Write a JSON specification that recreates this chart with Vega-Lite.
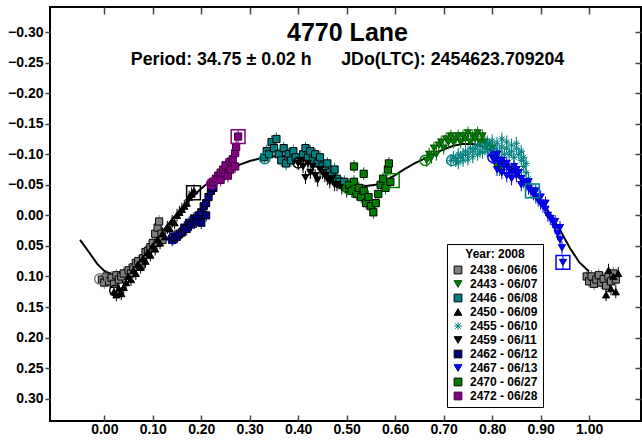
{
  "$schema": "https://vega.github.io/schema/vega-lite/v6.json",
  "width": 591,
  "height": 414,
  "autosize": "none",
  "padding": {"left": 50, "top": 7, "right": 1, "bottom": 24},
  "background": "white",
  "title": {
    "text": "4770 Lane",
    "subtitle": "Period: 34.75 ± 0.02 h\u00a0\u00a0\u00a0\u00a0\u00a0 JDo(LTC): 2454623.709204",
    "font": "Liberation Sans",
    "subtitleFont": "Liberation Sans",
    "fontSize": 25,
    "subtitleFontSize": 17.8,
    "fontWeight": "bold",
    "subtitleFontWeight": "bold",
    "color": "black",
    "subtitleColor": "black",
    "anchor": "middle",
    "frame": "group",
    "offset": -63,
    "subtitlePadding": 5,
    "dx": 2
  },
  "datasets": {
    "fit": [
      {"p": -0.05, "m": 0.040}, {"p": -0.03, "m": 0.062}, {"p": -0.015, "m": 0.079}, {"p": 0.0, "m": 0.091},
      {"p": 0.02, "m": 0.098}, {"p": 0.04, "m": 0.095}, {"p": 0.06, "m": 0.083}, {"p": 0.08, "m": 0.066},
      {"p": 0.10, "m": 0.046}, {"p": 0.12, "m": 0.026}, {"p": 0.14, "m": 0.006}, {"p": 0.16, "m": -0.012},
      {"p": 0.18, "m": -0.029}, {"p": 0.20, "m": -0.044}, {"p": 0.22, "m": -0.057}, {"p": 0.24, "m": -0.067},
      {"p": 0.26, "m": -0.076}, {"p": 0.28, "m": -0.083}, {"p": 0.30, "m": -0.089}, {"p": 0.32, "m": -0.093},
      {"p": 0.34, "m": -0.096}, {"p": 0.36, "m": -0.097}, {"p": 0.38, "m": -0.097}, {"p": 0.40, "m": -0.094},
      {"p": 0.42, "m": -0.089}, {"p": 0.44, "m": -0.082}, {"p": 0.46, "m": -0.073}, {"p": 0.48, "m": -0.064},
      {"p": 0.50, "m": -0.056}, {"p": 0.52, "m": -0.050}, {"p": 0.54, "m": -0.048}, {"p": 0.56, "m": -0.050},
      {"p": 0.58, "m": -0.057}, {"p": 0.60, "m": -0.066}, {"p": 0.62, "m": -0.076}, {"p": 0.64, "m": -0.085},
      {"p": 0.66, "m": -0.093}, {"p": 0.68, "m": -0.101}, {"p": 0.70, "m": -0.108}, {"p": 0.72, "m": -0.114},
      {"p": 0.74, "m": -0.117}, {"p": 0.76, "m": -0.117}, {"p": 0.78, "m": -0.113}, {"p": 0.80, "m": -0.105},
      {"p": 0.82, "m": -0.093}, {"p": 0.84, "m": -0.078}, {"p": 0.86, "m": -0.061}, {"p": 0.88, "m": -0.042},
      {"p": 0.90, "m": -0.022}, {"p": 0.92, "m": -0.002}, {"p": 0.94, "m": 0.024}, {"p": 0.96, "m": 0.053},
      {"p": 0.98, "m": 0.077}, {"p": 1.00, "m": 0.092}
    ],
    "pts": [
      {"s": "2438 - 06/06", "p": -0.005, "m": 0.105}, {"s": "2438 - 06/06", "p": 0.0, "m": 0.110}, {"s": "2438 - 06/06", "p": 0.005, "m": 0.100},
      {"s": "2438 - 06/06", "p": 0.01, "m": 0.108}, {"s": "2438 - 06/06", "p": 0.015, "m": 0.102}, {"s": "2438 - 06/06", "p": 0.02, "m": 0.112},
      {"s": "2438 - 06/06", "p": 0.025, "m": 0.098}, {"s": "2438 - 06/06", "p": 0.03, "m": 0.105}, {"s": "2438 - 06/06", "p": 0.035, "m": 0.100},
      {"s": "2438 - 06/06", "p": 0.04, "m": 0.095}, {"s": "2438 - 06/06", "p": 0.05, "m": 0.090}, {"s": "2438 - 06/06", "p": 0.055, "m": 0.095},
      {"s": "2438 - 06/06", "p": 0.06, "m": 0.085}, {"s": "2438 - 06/06", "p": 0.065, "m": 0.078}, {"s": "2438 - 06/06", "p": 0.07, "m": 0.075},
      {"s": "2438 - 06/06", "p": 0.075, "m": 0.082}, {"s": "2438 - 06/06", "p": 0.08, "m": 0.070}, {"s": "2438 - 06/06", "p": 0.085, "m": 0.060},
      {"s": "2438 - 06/06", "p": 0.09, "m": 0.058}, {"s": "2438 - 06/06", "p": 0.095, "m": 0.052}, {"s": "2438 - 06/06", "p": 0.10, "m": 0.045},
      {"s": "2438 - 06/06", "p": 0.105, "m": 0.030}, {"s": "2438 - 06/06", "p": 0.11, "m": 0.020}, {"s": "2438 - 06/06", "p": 0.11, "m": 0.045},
      {"s": "2438 - 06/06", "p": 0.113, "m": 0.010}, {"s": "2438 - 06/06", "p": 0.118, "m": 0.030}, {"s": "2438 - 06/06", "p": 0.12, "m": 0.040},
      {"s": "2438 - 06/06", "p": 0.995, "m": 0.100}, {"s": "2438 - 06/06", "p": 1.0, "m": 0.108}, {"s": "2438 - 06/06", "p": 1.005, "m": 0.100},
      {"s": "2438 - 06/06", "p": 1.01, "m": 0.112}, {"s": "2438 - 06/06", "p": 1.015, "m": 0.105}, {"s": "2438 - 06/06", "p": 1.02, "m": 0.098},
      {"s": "2438 - 06/06", "p": 1.025, "m": 0.110}, {"s": "2438 - 06/06", "p": 1.03, "m": 0.104}, {"s": "2438 - 06/06", "p": 1.035, "m": 0.115},
      {"s": "2438 - 06/06", "p": 1.04, "m": 0.100}, {"s": "2438 - 06/06", "p": 1.045, "m": 0.108}, {"s": "2438 - 06/06", "p": 1.05, "m": 0.095},
      {"s": "2438 - 06/06", "p": 1.055, "m": 0.105},

      {"s": "2450 - 06/09", "p": 0.02, "m": 0.125}, {"s": "2450 - 06/09", "p": 0.025, "m": 0.130}, {"s": "2450 - 06/09", "p": 0.03, "m": 0.120},
      {"s": "2450 - 06/09", "p": 0.035, "m": 0.128}, {"s": "2450 - 06/09", "p": 0.04, "m": 0.118}, {"s": "2450 - 06/09", "p": 0.045, "m": 0.110},
      {"s": "2450 - 06/09", "p": 0.05, "m": 0.100}, {"s": "2450 - 06/09", "p": 0.055, "m": 0.105}, {"s": "2450 - 06/09", "p": 0.06, "m": 0.090},
      {"s": "2450 - 06/09", "p": 0.065, "m": 0.095}, {"s": "2450 - 06/09", "p": 0.07, "m": 0.080}, {"s": "2450 - 06/09", "p": 0.075, "m": 0.085},
      {"s": "2450 - 06/09", "p": 0.08, "m": 0.070}, {"s": "2450 - 06/09", "p": 0.085, "m": 0.075}, {"s": "2450 - 06/09", "p": 0.09, "m": 0.060},
      {"s": "2450 - 06/09", "p": 0.095, "m": 0.065}, {"s": "2450 - 06/09", "p": 0.10, "m": 0.050}, {"s": "2450 - 06/09", "p": 0.105, "m": 0.055},
      {"s": "2450 - 06/09", "p": 0.11, "m": 0.040}, {"s": "2450 - 06/09", "p": 0.115, "m": 0.045}, {"s": "2450 - 06/09", "p": 0.12, "m": 0.030},
      {"s": "2450 - 06/09", "p": 0.125, "m": 0.035}, {"s": "2450 - 06/09", "p": 0.13, "m": 0.020}, {"s": "2450 - 06/09", "p": 0.135, "m": 0.022},
      {"s": "2450 - 06/09", "p": 0.14, "m": 0.010}, {"s": "2450 - 06/09", "p": 0.145, "m": 0.012}, {"s": "2450 - 06/09", "p": 0.15, "m": 0.000},
      {"s": "2450 - 06/09", "p": 0.155, "m": -0.005}, {"s": "2450 - 06/09", "p": 0.16, "m": -0.010}, {"s": "2450 - 06/09", "p": 0.165, "m": -0.015},
      {"s": "2450 - 06/09", "p": 0.17, "m": -0.020}, {"s": "2450 - 06/09", "p": 0.175, "m": -0.030}, {"s": "2450 - 06/09", "p": 0.18, "m": -0.035},
      {"s": "2450 - 06/09", "p": 0.185, "m": -0.040},
      {"s": "2450 - 06/09", "p": 1.035, "m": 0.130}, {"s": "2450 - 06/09", "p": 1.04, "m": 0.090}, {"s": "2450 - 06/09", "p": 1.045, "m": 0.120},
      {"s": "2450 - 06/09", "p": 1.05, "m": 0.100}, {"s": "2450 - 06/09", "p": 1.055, "m": 0.125}, {"s": "2450 - 06/09", "p": 1.06, "m": 0.095},

      {"s": "2462 - 06/12", "p": 0.14, "m": 0.040}, {"s": "2462 - 06/12", "p": 0.145, "m": 0.035}, {"s": "2462 - 06/12", "p": 0.15, "m": 0.035},
      {"s": "2462 - 06/12", "p": 0.155, "m": 0.030}, {"s": "2462 - 06/12", "p": 0.16, "m": 0.028}, {"s": "2462 - 06/12", "p": 0.165, "m": 0.020},
      {"s": "2462 - 06/12", "p": 0.17, "m": 0.022}, {"s": "2462 - 06/12", "p": 0.175, "m": 0.012}, {"s": "2462 - 06/12", "p": 0.18, "m": 0.015},
      {"s": "2462 - 06/12", "p": 0.185, "m": 0.005}, {"s": "2462 - 06/12", "p": 0.19, "m": 0.010}, {"s": "2462 - 06/12", "p": 0.195, "m": 0.000},
      {"s": "2462 - 06/12", "p": 0.20, "m": -0.005}, {"s": "2462 - 06/12", "p": 0.20, "m": 0.012}, {"s": "2462 - 06/12", "p": 0.205, "m": -0.015},
      {"s": "2462 - 06/12", "p": 0.21, "m": -0.020}, {"s": "2462 - 06/12", "p": 0.21, "m": 0.000}, {"s": "2462 - 06/12", "p": 0.215, "m": -0.030},
      {"s": "2462 - 06/12", "p": 0.22, "m": -0.040}, {"s": "2462 - 06/12", "p": 0.225, "m": -0.045},

      {"s": "2472 - 06/28", "p": 0.22, "m": -0.050}, {"s": "2472 - 06/28", "p": 0.225, "m": -0.055}, {"s": "2472 - 06/28", "p": 0.23, "m": -0.060},
      {"s": "2472 - 06/28", "p": 0.235, "m": -0.065}, {"s": "2472 - 06/28", "p": 0.24, "m": -0.070}, {"s": "2472 - 06/28", "p": 0.24, "m": -0.058},
      {"s": "2472 - 06/28", "p": 0.245, "m": -0.075}, {"s": "2472 - 06/28", "p": 0.25, "m": -0.068}, {"s": "2472 - 06/28", "p": 0.25, "m": -0.082},
      {"s": "2472 - 06/28", "p": 0.255, "m": -0.065}, {"s": "2472 - 06/28", "p": 0.26, "m": -0.075}, {"s": "2472 - 06/28", "p": 0.26, "m": -0.088},
      {"s": "2472 - 06/28", "p": 0.265, "m": -0.092}, {"s": "2472 - 06/28", "p": 0.27, "m": -0.080}, {"s": "2472 - 06/28", "p": 0.27, "m": -0.102},
      {"s": "2472 - 06/28", "p": 0.272, "m": -0.112}, {"s": "2472 - 06/28", "p": 0.276, "m": -0.129},

      {"s": "2446 - 06/08", "p": 0.33, "m": -0.095}, {"s": "2446 - 06/08", "p": 0.335, "m": -0.105}, {"s": "2446 - 06/08", "p": 0.34, "m": -0.100},
      {"s": "2446 - 06/08", "p": 0.345, "m": -0.120}, {"s": "2446 - 06/08", "p": 0.35, "m": -0.110}, {"s": "2446 - 06/08", "p": 0.355, "m": -0.125},
      {"s": "2446 - 06/08", "p": 0.36, "m": -0.100}, {"s": "2446 - 06/08", "p": 0.365, "m": -0.090}, {"s": "2446 - 06/08", "p": 0.37, "m": -0.110},
      {"s": "2446 - 06/08", "p": 0.375, "m": -0.085}, {"s": "2446 - 06/08", "p": 0.38, "m": -0.100}, {"s": "2446 - 06/08", "p": 0.385, "m": -0.090},
      {"s": "2446 - 06/08", "p": 0.39, "m": -0.105}, {"s": "2446 - 06/08", "p": 0.395, "m": -0.095}, {"s": "2446 - 06/08", "p": 0.41, "m": -0.100},
      {"s": "2446 - 06/08", "p": 0.415, "m": -0.110}, {"s": "2446 - 06/08", "p": 0.42, "m": -0.095}, {"s": "2446 - 06/08", "p": 0.425, "m": -0.105},
      {"s": "2446 - 06/08", "p": 0.43, "m": -0.090}, {"s": "2446 - 06/08", "p": 0.435, "m": -0.100}, {"s": "2446 - 06/08", "p": 0.44, "m": -0.085},
      {"s": "2446 - 06/08", "p": 0.445, "m": -0.095}, {"s": "2446 - 06/08", "p": 0.45, "m": -0.080}, {"s": "2446 - 06/08", "p": 0.455, "m": -0.075},
      {"s": "2446 - 06/08", "p": 0.46, "m": -0.085}, {"s": "2446 - 06/08", "p": 0.465, "m": -0.070}, {"s": "2446 - 06/08", "p": 0.47, "m": -0.065},
      {"s": "2446 - 06/08", "p": 0.475, "m": -0.075}, {"s": "2446 - 06/08", "p": 0.48, "m": -0.060}, {"s": "2446 - 06/08", "p": 0.485, "m": -0.055},
      {"s": "2446 - 06/08", "p": 0.49, "m": -0.050}, {"s": "2446 - 06/08", "p": 0.495, "m": -0.055},

      {"s": "2459 - 06/11", "p": 0.40, "m": -0.085}, {"s": "2459 - 06/11", "p": 0.405, "m": -0.090}, {"s": "2459 - 06/11", "p": 0.41, "m": -0.080},
      {"s": "2459 - 06/11", "p": 0.415, "m": -0.062}, {"s": "2459 - 06/11", "p": 0.42, "m": -0.085}, {"s": "2459 - 06/11", "p": 0.425, "m": -0.070},
      {"s": "2459 - 06/11", "p": 0.43, "m": -0.080}, {"s": "2459 - 06/11", "p": 0.435, "m": -0.065}, {"s": "2459 - 06/11", "p": 0.44, "m": -0.058},
      {"s": "2459 - 06/11", "p": 0.445, "m": -0.075}, {"s": "2459 - 06/11", "p": 0.45, "m": -0.070}, {"s": "2459 - 06/11", "p": 0.455, "m": -0.065},
      {"s": "2459 - 06/11", "p": 0.46, "m": -0.060}, {"s": "2459 - 06/11", "p": 0.465, "m": -0.055}, {"s": "2459 - 06/11", "p": 0.47, "m": -0.060},
      {"s": "2459 - 06/11", "p": 0.475, "m": -0.050}, {"s": "2459 - 06/11", "p": 0.48, "m": -0.050}, {"s": "2459 - 06/11", "p": 0.49, "m": -0.045},
      {"s": "2459 - 06/11", "p": 0.50, "m": -0.040},

      {"s": "2470 - 06/27", "p": 0.50, "m": -0.045}, {"s": "2470 - 06/27", "p": 0.505, "m": -0.050}, {"s": "2470 - 06/27", "p": 0.51, "m": -0.040},
      {"s": "2470 - 06/27", "p": 0.515, "m": -0.055}, {"s": "2470 - 06/27", "p": 0.515, "m": -0.080}, {"s": "2470 - 06/27", "p": 0.52, "m": -0.035},
      {"s": "2470 - 06/27", "p": 0.525, "m": -0.045}, {"s": "2470 - 06/27", "p": 0.53, "m": -0.030}, {"s": "2470 - 06/27", "p": 0.535, "m": -0.040},
      {"s": "2470 - 06/27", "p": 0.535, "m": -0.068}, {"s": "2470 - 06/27", "p": 0.54, "m": -0.020}, {"s": "2470 - 06/27", "p": 0.545, "m": -0.030},
      {"s": "2470 - 06/27", "p": 0.55, "m": -0.015}, {"s": "2470 - 06/27", "p": 0.555, "m": -0.005}, {"s": "2470 - 06/27", "p": 0.56, "m": -0.020},
      {"s": "2470 - 06/27", "p": 0.565, "m": -0.035}, {"s": "2470 - 06/27", "p": 0.57, "m": -0.050}, {"s": "2470 - 06/27", "p": 0.575, "m": -0.060},
      {"s": "2470 - 06/27", "p": 0.58, "m": -0.045}, {"s": "2470 - 06/27", "p": 0.585, "m": -0.075}, {"s": "2470 - 06/27", "p": 0.587, "m": -0.085},
      {"s": "2470 - 06/27", "p": 0.59, "m": -0.055},

      {"s": "2443 - 06/07", "p": 0.665, "m": -0.090}, {"s": "2443 - 06/07", "p": 0.67, "m": -0.100}, {"s": "2443 - 06/07", "p": 0.675, "m": -0.095},
      {"s": "2443 - 06/07", "p": 0.68, "m": -0.110}, {"s": "2443 - 06/07", "p": 0.685, "m": -0.100}, {"s": "2443 - 06/07", "p": 0.69, "m": -0.115},
      {"s": "2443 - 06/07", "p": 0.695, "m": -0.120}, {"s": "2443 - 06/07", "p": 0.70, "m": -0.110}, {"s": "2443 - 06/07", "p": 0.705, "m": -0.125},
      {"s": "2443 - 06/07", "p": 0.71, "m": -0.120}, {"s": "2443 - 06/07", "p": 0.715, "m": -0.130}, {"s": "2443 - 06/07", "p": 0.72, "m": -0.120},
      {"s": "2443 - 06/07", "p": 0.725, "m": -0.125}, {"s": "2443 - 06/07", "p": 0.73, "m": -0.130}, {"s": "2443 - 06/07", "p": 0.735, "m": -0.120},
      {"s": "2443 - 06/07", "p": 0.74, "m": -0.130}, {"s": "2443 - 06/07", "p": 0.745, "m": -0.125}, {"s": "2443 - 06/07", "p": 0.75, "m": -0.135},
      {"s": "2443 - 06/07", "p": 0.755, "m": -0.120}, {"s": "2443 - 06/07", "p": 0.76, "m": -0.130}, {"s": "2443 - 06/07", "p": 0.765, "m": -0.125},
      {"s": "2443 - 06/07", "p": 0.77, "m": -0.135}, {"s": "2443 - 06/07", "p": 0.775, "m": -0.120}, {"s": "2443 - 06/07", "p": 0.78, "m": -0.130},
      {"s": "2443 - 06/07", "p": 0.785, "m": -0.120}, {"s": "2443 - 06/07", "p": 0.79, "m": -0.115}, {"s": "2443 - 06/07", "p": 0.80, "m": -0.110},
      {"s": "2443 - 06/07", "p": 0.805, "m": -0.095}, {"s": "2443 - 06/07", "p": 0.81, "m": -0.080}, {"s": "2443 - 06/07", "p": 0.815, "m": -0.075},
      {"s": "2443 - 06/07", "p": 0.82, "m": -0.085},

      {"s": "2455 - 06/10", "p": 0.715, "m": -0.090}, {"s": "2455 - 06/10", "p": 0.72, "m": -0.095}, {"s": "2455 - 06/10", "p": 0.725, "m": -0.090},
      {"s": "2455 - 06/10", "p": 0.73, "m": -0.100}, {"s": "2455 - 06/10", "p": 0.73, "m": -0.086}, {"s": "2455 - 06/10", "p": 0.735, "m": -0.095},
      {"s": "2455 - 06/10", "p": 0.74, "m": -0.100}, {"s": "2455 - 06/10", "p": 0.74, "m": -0.090}, {"s": "2455 - 06/10", "p": 0.745, "m": -0.105},
      {"s": "2455 - 06/10", "p": 0.75, "m": -0.100}, {"s": "2455 - 06/10", "p": 0.75, "m": -0.092}, {"s": "2455 - 06/10", "p": 0.755, "m": -0.110},
      {"s": "2455 - 06/10", "p": 0.76, "m": -0.105}, {"s": "2455 - 06/10", "p": 0.76, "m": -0.096}, {"s": "2455 - 06/10", "p": 0.765, "m": -0.110},
      {"s": "2455 - 06/10", "p": 0.77, "m": -0.115}, {"s": "2455 - 06/10", "p": 0.77, "m": -0.100}, {"s": "2455 - 06/10", "p": 0.775, "m": -0.105},
      {"s": "2455 - 06/10", "p": 0.78, "m": -0.115}, {"s": "2455 - 06/10", "p": 0.78, "m": -0.103}, {"s": "2455 - 06/10", "p": 0.785, "m": -0.110},
      {"s": "2455 - 06/10", "p": 0.79, "m": -0.120}, {"s": "2455 - 06/10", "p": 0.79, "m": -0.105}, {"s": "2455 - 06/10", "p": 0.795, "m": -0.115},
      {"s": "2455 - 06/10", "p": 0.80, "m": -0.122}, {"s": "2455 - 06/10", "p": 0.80, "m": -0.108}, {"s": "2455 - 06/10", "p": 0.805, "m": -0.110},
      {"s": "2455 - 06/10", "p": 0.81, "m": -0.118}, {"s": "2455 - 06/10", "p": 0.81, "m": -0.100}, {"s": "2455 - 06/10", "p": 0.815, "m": -0.105},
      {"s": "2455 - 06/10", "p": 0.82, "m": -0.112}, {"s": "2455 - 06/10", "p": 0.82, "m": -0.125}, {"s": "2455 - 06/10", "p": 0.825, "m": -0.100},
      {"s": "2455 - 06/10", "p": 0.83, "m": -0.110}, {"s": "2455 - 06/10", "p": 0.83, "m": -0.120}, {"s": "2455 - 06/10", "p": 0.835, "m": -0.100},
      {"s": "2455 - 06/10", "p": 0.84, "m": -0.115}, {"s": "2455 - 06/10", "p": 0.84, "m": -0.105}, {"s": "2455 - 06/10", "p": 0.845, "m": -0.095},
      {"s": "2455 - 06/10", "p": 0.85, "m": -0.110}, {"s": "2455 - 06/10", "p": 0.85, "m": -0.118}, {"s": "2455 - 06/10", "p": 0.855, "m": -0.100},
      {"s": "2455 - 06/10", "p": 0.86, "m": -0.090}, {"s": "2455 - 06/10", "p": 0.86, "m": -0.105}, {"s": "2455 - 06/10", "p": 0.865, "m": -0.080},
      {"s": "2455 - 06/10", "p": 0.865, "m": -0.095}, {"s": "2455 - 06/10", "p": 0.87, "m": -0.070}, {"s": "2455 - 06/10", "p": 0.87, "m": -0.085},
      {"s": "2455 - 06/10", "p": 0.875, "m": -0.060}, {"s": "2455 - 06/10", "p": 0.88, "m": -0.045},

      {"s": "2467 - 06/13", "p": 0.80, "m": -0.095}, {"s": "2467 - 06/13", "p": 0.805, "m": -0.090}, {"s": "2467 - 06/13", "p": 0.81, "m": -0.100},
      {"s": "2467 - 06/13", "p": 0.81, "m": -0.075}, {"s": "2467 - 06/13", "p": 0.815, "m": -0.085}, {"s": "2467 - 06/13", "p": 0.82, "m": -0.090},
      {"s": "2467 - 06/13", "p": 0.82, "m": -0.070}, {"s": "2467 - 06/13", "p": 0.825, "m": -0.080}, {"s": "2467 - 06/13", "p": 0.83, "m": -0.085},
      {"s": "2467 - 06/13", "p": 0.83, "m": -0.065}, {"s": "2467 - 06/13", "p": 0.835, "m": -0.075}, {"s": "2467 - 06/13", "p": 0.84, "m": -0.070},
      {"s": "2467 - 06/13", "p": 0.84, "m": -0.060}, {"s": "2467 - 06/13", "p": 0.845, "m": -0.080}, {"s": "2467 - 06/13", "p": 0.85, "m": -0.065},
      {"s": "2467 - 06/13", "p": 0.85, "m": -0.075}, {"s": "2467 - 06/13", "p": 0.855, "m": -0.070}, {"s": "2467 - 06/13", "p": 0.86, "m": -0.060},
      {"s": "2467 - 06/13", "p": 0.86, "m": -0.050}, {"s": "2467 - 06/13", "p": 0.865, "m": -0.055}, {"s": "2467 - 06/13", "p": 0.87, "m": -0.050},
      {"s": "2467 - 06/13", "p": 0.875, "m": -0.045}, {"s": "2467 - 06/13", "p": 0.875, "m": -0.055}, {"s": "2467 - 06/13", "p": 0.88, "m": -0.040},
      {"s": "2467 - 06/13", "p": 0.885, "m": -0.035}, {"s": "2467 - 06/13", "p": 0.89, "m": -0.030}, {"s": "2467 - 06/13", "p": 0.89, "m": -0.040},
      {"s": "2467 - 06/13", "p": 0.895, "m": -0.025}, {"s": "2467 - 06/13", "p": 0.90, "m": -0.020}, {"s": "2467 - 06/13", "p": 0.90, "m": -0.030},
      {"s": "2467 - 06/13", "p": 0.905, "m": -0.015}, {"s": "2467 - 06/13", "p": 0.91, "m": -0.010}, {"s": "2467 - 06/13", "p": 0.91, "m": -0.020},
      {"s": "2467 - 06/13", "p": 0.915, "m": 0.000}, {"s": "2467 - 06/13", "p": 0.92, "m": 0.005}, {"s": "2467 - 06/13", "p": 0.925, "m": 0.010},
      {"s": "2467 - 06/13", "p": 0.93, "m": 0.020}, {"s": "2467 - 06/13", "p": 0.93, "m": 0.010}, {"s": "2467 - 06/13", "p": 0.935, "m": 0.030},
      {"s": "2467 - 06/13", "p": 0.94, "m": 0.040}, {"s": "2467 - 06/13", "p": 0.94, "m": 0.020}, {"s": "2467 - 06/13", "p": 0.944, "m": 0.053},
      {"s": "2467 - 06/13", "p": 0.946, "m": 0.077}
    ],
    "mk": [
      {"s": "2438 - 06/06", "k": "start", "p": -0.009, "m": 0.104},
      {"s": "2450 - 06/09", "k": "start", "p": 0.022, "m": 0.123},
      {"s": "2462 - 06/12", "k": "start", "p": 0.142, "m": 0.038},
      {"s": "2472 - 06/28", "k": "start", "p": 0.222, "m": -0.052},
      {"s": "2446 - 06/08", "k": "start", "p": 0.331, "m": -0.093},
      {"s": "2459 - 06/11", "k": "start", "p": 0.40, "m": -0.086},
      {"s": "2470 - 06/27", "k": "start", "p": 0.503, "m": -0.044},
      {"s": "2443 - 06/07", "k": "start", "p": 0.662, "m": -0.090},
      {"s": "2455 - 06/10", "k": "start", "p": 0.717, "m": -0.090},
      {"s": "2467 - 06/13", "k": "start", "p": 0.802, "m": -0.095},
      {"s": "2450 - 06/09", "k": "end", "p": 0.184, "m": -0.037},
      {"s": "2472 - 06/28", "k": "end", "p": 0.276, "m": -0.129},
      {"s": "2470 - 06/27", "k": "end", "p": 0.594, "m": -0.057},
      {"s": "2455 - 06/10", "k": "end", "p": 0.883, "m": -0.040},
      {"s": "2467 - 06/13", "k": "end", "p": 0.946, "m": 0.077}
    ]
  },
  "layer": [
    {
      "data": {"name": "fit"},
      "mark": {"type": "line", "color": "black", "strokeWidth": 2},
      "encoding": {
        "x": {"field": "p", "type": "quantitative",
          "scale": {"domain": [-0.112, 1.107], "nice": false, "zero": false},
          "axis": {"orient": "top", "values": [0, 0.1, 0.2, 0.3, 0.4, 0.5, 0.6, 0.7, 0.8, 0.9, 1.0],
            "labels": false, "domain": false, "grid": false, "tickSize": -7, "tickColor": "#444", "tickWidth": 1.5, "title": null}},
        "y": {"field": "m", "type": "quantitative",
          "scale": {"domain": [-0.341, 0.3365], "reverse": true, "nice": false, "zero": false},
          "axis": {"orient": "right", "values": [-0.3, -0.25, -0.2, -0.15, -0.1, -0.05, 0, 0.05, 0.1, 0.15, 0.2, 0.25, 0.3],
            "labels": false, "domain": false, "grid": false, "tickSize": -6, "tickColor": "#444", "tickWidth": 1.5, "title": null}}
      }
    },
    {
      "data": {"name": "pts"},
      "mark": {"type": "tick", "orient": "vertical", "size": 13, "thickness": 1, "opacity": 1},
      "encoding": {
        "x": {"field": "p", "type": "quantitative", "axis": null},
        "y": {"field": "m", "type": "quantitative", "axis": null},
        "fill": {"field": "s", "type": "nominal", "legend": {"title": "Year: 2008"}}
      }
    },
    {
      "data": {"name": "pts"},
      "mark": {"type": "point", "filled": true, "size": 52, "strokeWidth": 1, "opacity": 1},
      "encoding": {
        "x": {"field": "p", "type": "quantitative",
          "axis": {"orient": "bottom", "values": [0, 0.1, 0.2, 0.3, 0.4, 0.5, 0.6, 0.7, 0.8, 0.9, 1.0], "format": ".2f",
            "labelFont": "Liberation Sans", "labelFontSize": 14, "labelFontWeight": "bold", "labelColor": "black",
            "domain": false, "grid": false, "tickSize": -6, "tickColor": "#444", "tickWidth": 1.5, "labelPadding": 7, "title": null}},
        "y": {"field": "m", "type": "quantitative",
          "axis": {"orient": "left", "values": [-0.3, -0.25, -0.2, -0.15, -0.1, -0.05, 0, 0.05, 0.1, 0.15, 0.2, 0.25, 0.3], "format": ".2f",
            "labelFont": "Liberation Sans", "labelFontSize": 14, "labelFontWeight": "bold", "labelColor": "black",
            "domain": false, "grid": false, "tickSize": 5, "tickColor": "#444", "tickWidth": 1.5, "labelPadding": 2, "title": null}},
        "fill": {"field": "s", "type": "nominal",
          "scale": {"domain": ["2438 - 06/06", "2443 - 06/07", "2446 - 06/08", "2450 - 06/09", "2455 - 06/10", "2459 - 06/11", "2462 - 06/12", "2467 - 06/13", "2470 - 06/27", "2472 - 06/28"],
            "range": ["#808080", "#008000", "#008080", "#000000", "#008080", "#000000", "#000080", "#0000ff", "#008000", "#800080"]},
          "legend": {"title": "Year: 2008"}},
        "stroke": {"field": "s", "type": "nominal",
          "scale": {"domain": ["2438 - 06/06", "2443 - 06/07", "2446 - 06/08", "2450 - 06/09", "2455 - 06/10", "2459 - 06/11", "2462 - 06/12", "2467 - 06/13", "2470 - 06/27", "2472 - 06/28"],
            "range": ["#000000", "#005000", "#000000", "#000000", "#008080", "#000000", "#000000", "#0000c0", "#000000", "#400040"]},
          "legend": {"title": "Year: 2008"}},
        "shape": {"field": "s", "type": "nominal",
          "scale": {"domain": ["2438 - 06/06", "2443 - 06/07", "2446 - 06/08", "2450 - 06/09", "2455 - 06/10", "2459 - 06/11", "2462 - 06/12", "2467 - 06/13", "2470 - 06/27", "2472 - 06/28"],
            "range": ["square", "triangle-down", "square", "triangle-up", "M-1,0L1,0M0,-1L0,1M-0.72,-0.72L0.72,0.72M-0.72,0.72L0.72,-0.72", "triangle-down", "square", "triangle-down", "square", "square"]},
          "legend": {"title": "Year: 2008"}}
      }
    },
    {
      "data": {"name": "mk"},
      "transform": [{"filter": "datum.k == 'start'"}],
      "mark": {"type": "point", "shape": "circle", "filled": false, "size": 110, "strokeWidth": 1.5, "opacity": 1},
      "encoding": {
        "x": {"field": "p", "type": "quantitative", "axis": null},
        "y": {"field": "m", "type": "quantitative", "axis": null},
        "color": {"field": "s", "type": "nominal", "legend": null,
          "scale": {"domain": ["2438 - 06/06", "2443 - 06/07", "2446 - 06/08", "2450 - 06/09", "2455 - 06/10", "2459 - 06/11", "2462 - 06/12", "2467 - 06/13", "2470 - 06/27", "2472 - 06/28"],
            "range": ["#808080", "#008000", "#008080", "#000000", "#008080", "#000000", "#000080", "#0000ff", "#008000", "#800080"]}}
      }
    },
    {
      "data": {"name": "mk"},
      "transform": [{"filter": "datum.k == 'end'"}],
      "mark": {"type": "point", "shape": "square", "filled": false, "size": 190, "strokeWidth": 1.5, "opacity": 1},
      "encoding": {
        "x": {"field": "p", "type": "quantitative", "axis": null},
        "y": {"field": "m", "type": "quantitative", "axis": null},
        "color": {"field": "s", "type": "nominal", "legend": null}
      }
    }
  ],
  "resolve": {"axis": {"x": "independent", "y": "independent"}},
  "config": {
    "view": {"stroke": "black", "strokeWidth": 2},
    "font": "Liberation Sans",
    "legend": {
      "orient": "none",
      "legendX": 397,
      "legendY": 237,
      "fillColor": "white",
      "strokeColor": "black",
      "padding": 5,
      "titleFont": "Liberation Sans",
      "titleFontSize": 12,
      "titleFontWeight": "bold",
      "titleColor": "black",
      "titleAnchor": "middle",
      "titlePadding": 3,
      "labelFont": "Liberation Sans",
      "labelFontSize": 12,
      "labelFontWeight": "bold",
      "labelColor": "black",
      "symbolSize": 60,
      "symbolStrokeWidth": 1,
      "rowPadding": 2,
      "labelOffset": 6
    }
  }
}
